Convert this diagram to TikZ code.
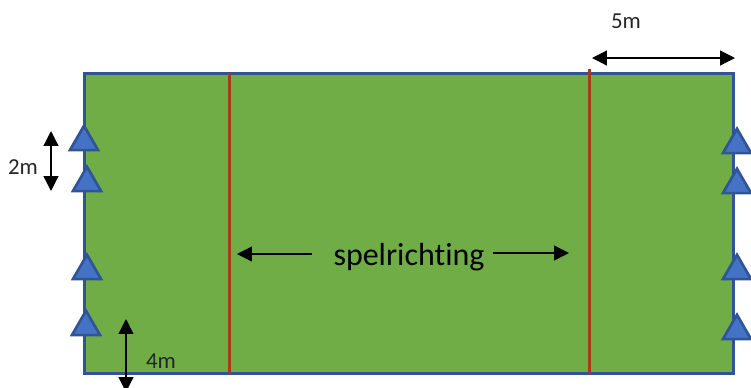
\documentclass[tikz,border=0pt]{standalone}
\usepackage{fontspec}
\setmainfont[Ligatures=NoCommon]{Carlito}
\usepackage[svgnames]{xcolor}
\usetikzlibrary{arrows.meta,shapes.geometric}
\definecolor{fieldgreen}{HTML}{70AD47}
\definecolor{fieldblue}{HTML}{2F5597}
\definecolor{conefill}{HTML}{4472C4}
\definecolor{redline}{RGB}{165,60,25}
\tikzset{
	cone/.style={regular polygon, regular polygon sides=3, minimum size=18.5pt, draw=fieldblue, fill=conefill, line width=1.5pt},
	dim/.style={<->, line width=0.7pt},
	label/.style={font=\fontsize{13pt}{15pt}\selectfont, text=black!85},
	midline/.style={draw=redline, line width=1.15pt}
}
\begin{document}
\begin{tikzpicture}[>={Triangle[length=8.5pt,width=8.5pt]}, inner sep=0pt, x=0.02cm, y=-0.02cm]
			\useasboundingbox (0,0) rectangle (751,387);
			\node[minimum width=13cm, minimum height=6.02cm, draw=fieldblue, fill=fieldgreen, line width=1.7pt] (field) at (409,223.5) {};
			
			\coordinate (line1_t) at (229.5,73);
			\coordinate (line1_b) at (229.5,374);
			\coordinate (line2_t) at (589.5,69);
			\coordinate (line2_b) at (589.5,374);
			\draw[midline] (line1_t) -- (line1_b);
			\draw[midline] (line2_t) -- (line2_b);
			
			\node[cone] (left1) at (84,142) {};
			\node[cone] (left2) at (87,183) {};
			\node[cone] (left3) at (87,271) {};
			\node[cone] (left4) at (86,327) {};
			\node[cone] (right1) at (737,145) {};
			\node[cone] (right2) at (737,185) {};
			\node[cone] (right3) at (737,271) {};
			\node[cone] (right4) at (737,331) {};
			
			\node[label] (two) at (23,167) {2m};
			\node[label] (four) at (161,361) {4m};
			\node[label] (five) at (626,21) {5m};
			\node[font=\fontsize{18.2pt}{21pt}\selectfont] (richting) at (409,257) {spelrichting};
			
			\coordinate (two_t) at (51,131);
			\coordinate (two_b) at (51,191);
			\coordinate (four_t) at (126,319);
			\coordinate (four_b) at (126,392);
			\coordinate (five_l) at (592,58);
			\coordinate (five_r) at (735,58);
			\coordinate (left_s) at (312,254);
			\coordinate (left_e) at (237,254);
			\coordinate (right_s) at (493,253);
			\coordinate (right_e) at (569,253);
			
			\draw[dim] (two_t) -- (two_b);
			\draw[dim] (four_t) -- (four_b);
			\draw[dim] (five_l) -- (five_r);
			\draw[->, line width=0.7pt] (left_s) -- (left_e);
			\draw[->, line width=0.7pt] (right_s) -- (right_e);
		\end{tikzpicture}
\end{document}
